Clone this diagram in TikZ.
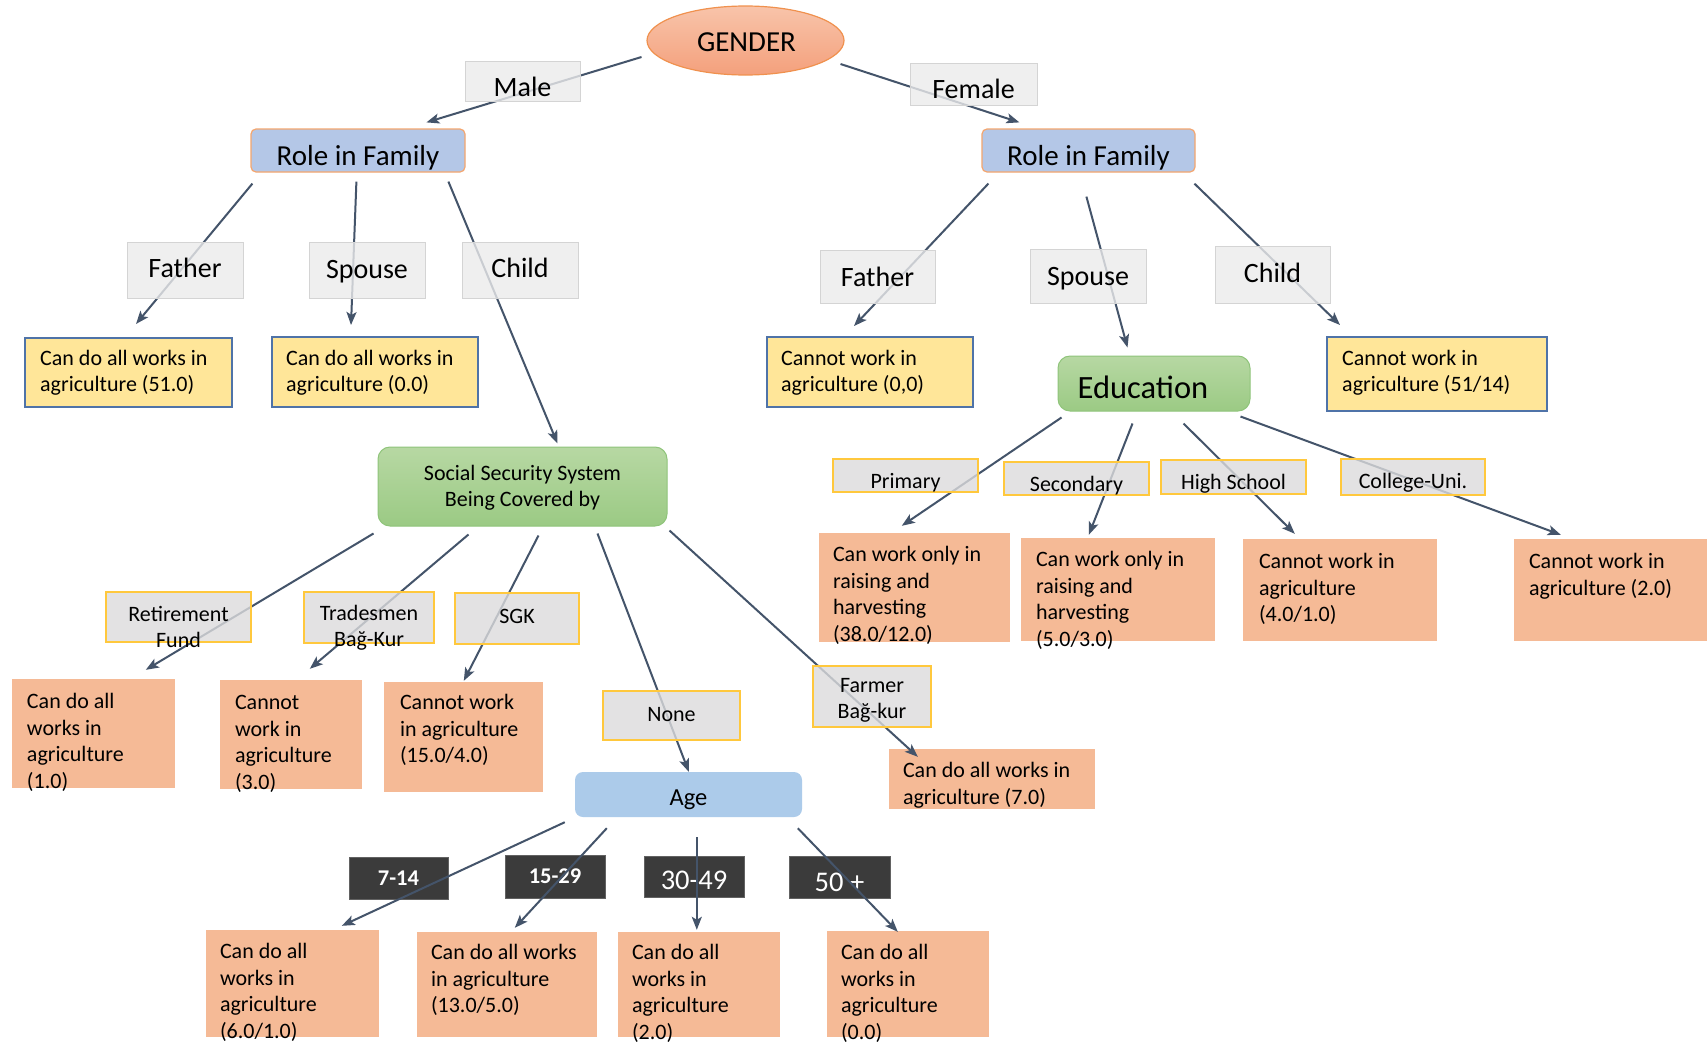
\documentclass[tikz,border=0pt]{standalone}
\usepackage{fontspec}
\setmainfont{Carlito}
\usetikzlibrary{arrows.meta,fit,calc,shapes.geometric}

\definecolor{arrc}{HTML}{44546A}
\definecolor{gTop}{HTML}{F8C4AA}
\definecolor{gBot}{HTML}{F4A07C}
\definecolor{gBord}{HTML}{F0914E}
\definecolor{roleF}{HTML}{B4C7E7}
\definecolor{roleB}{HTML}{F4A66F}
\definecolor{labAF}{HTML}{EBEBEB}
\definecolor{labAB}{HTML}{D4D4D4}
\definecolor{labBF}{HTML}{DCDBDC}
\definecolor{labBB}{HTML}{FFC83D}
\definecolor{yelF}{HTML}{FFE699}
\definecolor{yelB}{HTML}{4F73A8}
\definecolor{salF}{HTML}{F5BA96}
\definecolor{grnT}{HTML}{B7D8A3}
\definecolor{grnB}{HTML}{9BCA84}
\definecolor{grnD}{HTML}{8FC47A}
\definecolor{ageF}{HTML}{ACCBEA}
\definecolor{darkF}{HTML}{3B3B3B}

\tikzset{
  arr/.style={draw=arrc, line width=2pt, -{Stealth[length=13pt,width=10pt,inset=3pt]}},
  ell/.style={ellipse, top color=gTop, bottom color=gBot, draw=gBord, line width=1.2pt},
  role/.style={rounded corners=5pt, fill=roleF, draw=roleB, line width=1.2pt},
  labA/.style={fill=labAF, draw=labAB, line width=1pt, fill opacity=0.8},
  labB/.style={fill=labBF, draw=labBB, line width=1.5pt, fill opacity=0.8},
  yel/.style={fill=yelF, draw=yelB, line width=2pt},
  sal/.style={fill=salF},
  grn/.style={rounded corners=12pt, top color=grnT, bottom color=grnB, draw=grnD, line width=1pt},
  agebox/.style={rounded corners=8pt, fill=ageF},
  dark/.style={fill=darkF, draw=darkF!80!white, line width=0.8pt},
  t22/.style={font=\fontsize{22}{26.5}\selectfont, inner sep=0pt, align=center},
  t24/.style={font=\fontsize{24.5}{29}\selectfont, inner sep=0pt, align=center},
  t28/.style={font=\fontsize{28}{33}\selectfont, inner sep=0pt, align=center},
  t29/.style={font=\fontsize{29}{34}\selectfont, inner sep=0pt, align=center},
  t32/.style={font=\fontsize{32.5}{38}\selectfont, inner sep=0pt, align=center},
  tw22/.style={font=\fontsize{22.5}{26.5}\selectfont\bfseries, inner sep=0pt, text=white},
  tw28/.style={font=\fontsize{28.5}{33}\selectfont, inner sep=0pt, text=white},
  rtxt/.style={anchor=base west, inner sep=0pt, font=\fontsize{22}{26.5}\selectfont}
}

\newcommand{\mybox}[6]{\node[fit={(#2,#3) (#4,#5)}, inner sep=0pt, #6] (#1) {};}
\newcommand{\mytext}[4]{\node[#2] (#1-t) at ($(#1.center)+(#3)$) {#4};}
\newcommand{\myres}[4]{\node[rtxt] (#1-t) at ($(#1.north west)+(#2,#3)$) {\parbox[t]{260pt}{#4}};}

\begin{document}
\begin{tikzpicture}[x=1pt,y=-1pt]
\useasboundingbox (0,0) rectangle (1707,1044);
\fill[white] (0,0) rectangle (1707,1044);

% ---------- main nodes ----------
\node[ell, minimum width=197pt, minimum height=69pt, inner sep=0pt] (gender) at (745.5,40.5) {};
\mytext{gender}{t29}{1,1.5}{GENDER}

\mybox{rl}{251}{129}{465}{172}{role}
\mytext{rl}{t29}{0,7}{Role in Family}
\mybox{rr}{982}{129}{1195}{172}{role}
\mytext{rr}{t29}{0,7}{Role in Family}

\mybox{edu}{1058}{356}{1250}{411}{grn}
\mytext{edu}{t32}{-11,4}{Education}

\mybox{sss}{378}{447}{667}{526}{grn}
\mytext{sss}{t22}{0,1}{Social Security System\\Being Covered by}

\mybox{age}{575}{772}{802}{817}{agebox}
\mytext{age}{t24}{0,5}{Age}

% ---------- result boxes ----------
\mybox{fr1}{25}{338}{232}{407}{yel}
\myres{fr1}{16}{28}{Can do all works in\\agriculture (51.0)}
\mybox{fr2}{272}{337}{478}{407}{yel}
\myres{fr2}{15}{29}{Can do all works in\\agriculture (0.0)}
\mybox{fr3}{767}{337}{973}{407}{yel}
\myres{fr3}{15}{29}{Cannot work in\\agriculture (0,0)}
\mybox{fr4}{1327}{337}{1547}{411}{yel}
\myres{fr4}{16}{29}{Cannot work in\\agriculture (51/14)}

\mybox{e1}{819}{533}{1010}{642}{sal}
\myres{e1}{14}{29}{Can work only in\\raising and\\harvesting\\(38.0/12.0)}
\mybox{e2}{1021}{538}{1215}{641}{sal}
\myres{e2}{15}{29}{Can work only in\\raising and\\harvesting\\(5.0/3.0)}
\mybox{e3}{1243}{539}{1437}{641}{sal}
\myres{e3}{16}{30}{Cannot work in\\agriculture\\(4.0/1.0)}
\mybox{e4}{1514}{539}{1707}{641}{sal}
\myres{e4}{15}{30}{Cannot work in\\agriculture (2.0)}

\mybox{s1}{12}{679}{175}{788}{sal}
\myres{s1}{15}{30}{Can do all\\works in\\agriculture\\(1.0)}
\mybox{s2}{220}{680}{362}{789}{sal}
\myres{s2}{15}{30}{Cannot\\work in\\agriculture\\(3.0)}
\mybox{s3}{384}{682}{543}{792}{sal}
\myres{s3}{16}{28}{Cannot work\\in agriculture\\(15.0/4.0)}
\mybox{s5}{889}{749}{1095}{809}{sal}
\myres{s5}{14}{29}{Can do all works in\\agriculture (7.0)}

\mybox{a1}{206}{930}{379}{1037}{sal}
\myres{a1}{14}{29}{Can do all\\works in\\agriculture\\(6.0/1.0)}
\mybox{a2}{417}{932}{597}{1037}{sal}
\myres{a2}{14}{28}{Can do all works\\in agriculture\\(13.0/5.0)}
\mybox{a3}{618}{932}{780}{1037}{sal}
\myres{a3}{14}{28}{Can do all\\works in\\agriculture\\(2.0)}
\mybox{a4}{827}{931}{989}{1037}{sal}
\myres{a4}{14}{29}{Can do all\\works in\\agriculture\\(0.0)}

% ---------- dark age labels ----------
\mybox{l714}{349}{857}{448}{899}{dark}
\mytext{l714}{tw22}{0,0}{7-14}
\mybox{l1529}{505}{855}{605}{898}{dark}
\mytext{l1529}{tw22}{0,0}{15-29}
\mybox{l3049}{644}{856}{744}{897}{dark}
\mytext{l3049}{tw28}{0,4}{30-49}
\mybox{l50}{789}{856}{890}{898}{dark}
\mytext{l50}{tw28}{0,5}{50 +}

% ---------- connectors ----------
\draw[arr] ($(gender.center)+(-104,16.5)$) -- ($(rl.north west)+(176,-6)$);
\draw[arr] ($(gender.center)+(95,23.5)$) -- ($(rr.north west)+(38,-6)$);

\draw[arr] ($(rl.south west)+(2,11)$) -- ($(fr1.north west)+(112,-13)$);
\draw[arr] ($(rl.south west)+(106,9)$) -- ($(fr2.north west)+(80,-11)$);
\draw[arr] ($(rl.south west)+(198,9)$) -- ($(sss.north west)+(180,-3)$);

\draw[arr] ($(rr.south west)+(7,11)$) -- ($(fr3.north west)+(88,-10)$);
\draw[arr] ($(rr.south west)+(105,24)$) -- ($(edu.north west)+(70,-8)$);
\draw[arr] ($(rr.south west)+(213,11)$) -- ($(fr4.north west)+(14,-11)$);

\draw[arr] ($(edu.south west)+(4,6)$) -- ($(e1.north west)+(83,-7)$);
\draw[arr] ($(edu.south west)+(75,12)$) -- ($(e2.north west)+(68,-3)$);
\draw[arr] ($(edu.south west)+(126,12)$) -- ($(e3.north west)+(52,-5)$);
\draw[arr] ($(edu.south west)+(183,5)$) -- ($(e4.north west)+(47,-4)$);

\draw[arr] ($(sss.south west)+(-4,7)$) -- ($(s1.north west)+(134,-9)$);
\draw[arr] ($(sss.south west)+(91,8)$) -- ($(s2.north west)+(90,-11)$);
\draw[arr] ($(sss.south west)+(161,9)$) -- ($(s3.north west)+(80,-1)$);
\draw[arr] ($(sss.south west)+(220,7)$) -- ($(age.north west)+(114,0)$);
\draw[arr] ($(sss.south west)+(292,4)$) -- ($(s5.north west)+(29,8)$);

\draw[arr] ($(age.south west)+(-10,5)$) -- ($(a1.north west)+(136,-4)$);
\draw[arr] ($(age.south west)+(32,11)$) -- ($(a2.north west)+(98,-4)$);
\draw[arr] ($(age.south west)+(122,20)$) -- ($(a3.north west)+(79,-2)$);
\draw[arr] ($(age.south west)+(223,11)$) -- ($(a4.north west)+(71,1)$);

% ---------- edge labels ----------
\mybox{male}{465}{61}{580}{101}{labA}
\mytext{male}{t28}{0,6}{Male}
\mybox{female}{910}{63}{1037}{105}{labA}
\mytext{female}{t28}{0,5}{Female}

\mybox{lfa}{127}{242}{243}{298}{labA}
\mytext{lfa}{t28}{0,-2}{Father}
\mybox{lsp}{309}{242}{425}{298}{labA}
\mytext{lsp}{t28}{0,1.5}{Spouse}
\mybox{lch}{462}{242}{578}{298}{labA}
\mytext{lch}{t28}{0,-2}{Child}

\mybox{rfa}{820}{250}{935}{303}{labA}
\mytext{rfa}{t28}{0,0}{Father}
\mybox{rsp}{1030}{249}{1146}{303}{labA}
\mytext{rsp}{t28}{0,2.5}{Spouse}
\mybox{rch}{1215}{246}{1330}{303}{labA}
\mytext{rch}{t28}{0,-2}{Child}

\mybox{lpri}{833}{459}{978}{492}{labB}
\mytext{lpri}{t22}{0,7}{Primary}
\mybox{lsec}{1004}{462}{1149}{495}{labB}
\mytext{lsec}{t22}{0,7}{Secondary}
\mybox{lhs}{1161}{460}{1306}{494}{labB}
\mytext{lhs}{t22}{0,7}{High School}
\mybox{lcol}{1341}{459}{1485}{495}{labB}
\mytext{lcol}{t22}{0,6}{College-Uni.}

\mybox{lret}{106}{592}{251}{642}{labB}
\mytext{lret}{t22}{0,10}{Retirement\\Fund}
\mybox{ltrd}{304}{592}{434}{643}{labB}
\mytext{ltrd}{t22}{0,10}{Tradesmen\\Bağ-Kur}
\mybox{lsgk}{455}{593}{579}{644}{labB}
\mytext{lsgk}{t22}{0,-2}{SGK}
\mybox{lnone}{603}{691}{740}{740}{labB}
\mytext{lnone}{t22}{0,-1}{None}
\mybox{lfarm}{813}{666}{931}{727}{labB}
\mytext{lfarm}{t22}{0,4}{Farmer\\Bağ-kur}

\end{tikzpicture}
\end{document}
